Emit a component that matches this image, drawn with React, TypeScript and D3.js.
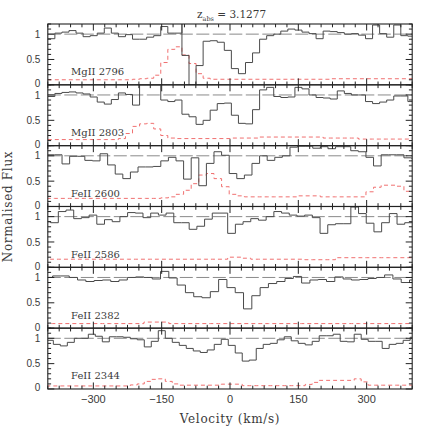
import React from "react";
import * as d3 from "d3";

// ---------------- data ----------------
const Z_ABS = "3.1277";
const PANEL_LABELS = ["MgII 2796", "MgII 2803", "FeII 2600", "FeII 2586", "FeII 2382", "FeII 2344"];
// velocity of first pixel edge (km/s) and pixel width (km/s) for each transition
const BIN_START = [-400, -400, -402.1, -410.7, -407.6, -403.2];
const BIN_WIDTH = [15.5, 15.5, 16.68, 16.9, 18.22, 15.36];

const FLUX_MGII_2796 = [0.91, 1.02, 1.04, 1.07, 1.02, 0.95, 0.97, 1.02, 1.12, 1.02, 0.95, 0.99, 0.9, 0.9, 0.94, 0.97, 1.15, 1.02, 1.02, 0.58, 0, 0.38, 0.86, 0.87, 0.84, 0.68, 0.32, 0.22, 0.44, 0.63, 0.9, 0.97, 1.0, 1.06, 1.1, 1.08, 1.04, 1.01, 0.91, 1.06, 1.05, 1.03, 1.0, 1.01, 0.98, 0.91, 1.18, 1.01, 0.94, 1.18, 0.97, 0.96];
const ERR_MGII_2796 = [0.1, 0.1, 0.1, 0.1, 0.1, 0.1, 0.1, 0.1, 0.1, 0.1, 0.1, 0.1, 0.11, 0.12, 0.13, 0.19, 0.44, 0.7, 0.75, 0.59, 0.42, 0.22, 0.13, 0.11, 0.11, 0.11, 0.11, 0.11, 0.11, 0.11, 0.11, 0.11, 0.11, 0.11, 0.11, 0.11, 0.11, 0.11, 0.11, 0.11, 0.12, 0.12, 0.12, 0.12, 0.12, 0.12, 0.12, 0.12, 0.12, 0.12, 0.12, 0.12];

const FLUX_MGII_2803 = [0.97, 1.03, 1.05, 1.06, 1.04, 1.02, 0.96, 0.86, 0.82, 0.91, 1.04, 1.01, 0.8, 1.2, 1.2, 1.2, 0.9, 0.87, 0.9, 0.62, 0.57, 0.42, 0.5, 0.7, 0.83, 0.84, 0.6, 0.44, 0.43, 0.71, 1.1, 1.15, 0.97, 0.95, 0.96, 1.15, 1.12, 1.0, 0.95, 0.94, 0.92, 1.08, 1.03, 1.0, 1.0, 0.87, 0.83, 0.86, 0.9, 0.98, 0.98, 0.87];
const ERR_MGII_2803 = [0.12, 0.12, 0.12, 0.12, 0.12, 0.12, 0.12, 0.12, 0.12, 0.12, 0.14, 0.24, 0.38, 0.43, 0.44, 0.33, 0.2, 0.15, 0.14, 0.14, 0.14, 0.14, 0.14, 0.14, 0.14, 0.14, 0.15, 0.15, 0.15, 0.15, 0.17, 0.17, 0.17, 0.17, 0.17, 0.17, 0.17, 0.17, 0.17, 0.15, 0.15, 0.15, 0.15, 0.15, 0.13, 0.13, 0.13, 0.13, 0.13, 0.13, 0.13, 0.13];

const FLUX_FEII_2600 = [1.02, 1.02, 0.84, 0.99, 0.99, 0.91, 0.9, 1.04, 0.82, 0.64, 0.55, 0.68, 0.78, 0.78, 0.79, 0.9, 0.97, 0.9, 0.54, 0.96, 0.41, 0.85, 1.08, 1.01, 0.65, 0.55, 0.62, 0.85, 1.0, 0.91, 0.97, 1.0, 1.17, 1.19, 1.19, 1.15, 1.18, 1.14, 1.18, 1.18, 1.1, 1.08, 0.97, 0.8, 1.02, 1.02, 1.02, 0.96, 0.95];
const ERR_FEII_2600 = [0.16, 0.16, 0.16, 0.16, 0.16, 0.16, 0.16, 0.16, 0.16, 0.16, 0.16, 0.16, 0.16, 0.16, 0.16, 0.17, 0.19, 0.24, 0.32, 0.45, 0.62, 0.65, 0.55, 0.39, 0.24, 0.21, 0.19, 0.19, 0.19, 0.19, 0.19, 0.19, 0.19, 0.21, 0.21, 0.21, 0.19, 0.19, 0.19, 0.19, 0.19, 0.19, 0.29, 0.38, 0.42, 0.42, 0.4, 0.3, 0.29];

const FLUX_FEII_2586 = [0.9, 0.88, 1.1, 1.13, 0.96, 0.98, 1.03, 0.85, 0.94, 0.9, 1.0, 1.08, 1.07, 0.98, 1.07, 1.03, 1.07, 0.88, 0.88, 0.75, 0.81, 0.95, 1.07, 1.07, 0.67, 0.85, 0.9, 0.96, 0.93, 1.0, 1.1, 1.07, 1.03, 1.01, 1.03, 0.98, 0.67, 0.84, 0.86, 0.86, 1.19, 1.06, 0.87, 0.7, 0.88, 1.06, 0.85, 0.88, 0.88];
const ERR_FEII_2586 = [0.16, 0.16, 0.16, 0.16, 0.16, 0.16, 0.16, 0.16, 0.16, 0.16, 0.16, 0.16, 0.16, 0.16, 0.16, 0.16, 0.16, 0.16, 0.16, 0.16, 0.16, 0.16, 0.16, 0.16, 0.2, 0.2, 0.18, 0.16, 0.16, 0.16, 0.16, 0.16, 0.16, 0.16, 0.15, 0.15, 0.15, 0.15, 0.19, 0.19, 0.19, 0.19, 0.19, 0.19, 0.19, 0.19, 0.19, 0.19, 0.19];

const FLUX_FEII_2382 = [1.0, 1.03, 1.03, 1.0, 0.95, 0.92, 0.94, 0.95, 0.92, 0.95, 1.0, 1.01, 1.0, 0.97, 1.12, 0.99, 0.85, 0.7, 0.62, 0.6, 0.72, 0.96, 0.8, 0.7, 0.38, 0.64, 0.8, 0.88, 0.92, 0.98, 1.02, 0.89, 0.95, 0.96, 0.92, 1.01, 0.97, 0.95, 0.96, 0.98, 1.0, 1.05, 0.97, 0.9, 0.95];
const ERR_FEII_2382 = [0.09, 0.09, 0.09, 0.09, 0.09, 0.09, 0.09, 0.09, 0.09, 0.09, 0.09, 0.09, 0.12, 0.12, 0.12, 0.09, 0.09, 0.09, 0.09, 0.09, 0.09, 0.09, 0.09, 0.09, 0.09, 0.09, 0.09, 0.09, 0.09, 0.09, 0.09, 0.09, 0.09, 0.09, 0.09, 0.09, 0.09, 0.09, 0.09, 0.09, 0.09, 0.09, 0.09, 0.09, 0.09];

const FLUX_FEII_2344 = [0.96, 0.88, 0.85, 0.92, 1.0, 1.0, 1.08, 1.04, 0.93, 1.03, 1.03, 1.02, 0.99, 0.97, 0.83, 0.94, 1.15, 1.0, 0.92, 0.86, 0.8, 0.75, 0.72, 0.77, 0.88, 0.98, 0.86, 0.71, 0.55, 0.57, 0.8, 0.88, 0.9, 0.97, 1.03, 0.95, 0.9, 0.87, 0.94, 1.05, 1.05, 1.08, 0.94, 0.93, 1.08, 0.98, 0.94, 0.94, 0.8, 0.88, 0.9, 0.96, 1.02];
const ERR_FEII_2344 = [0.06, 0.06, 0.06, 0.06, 0.06, 0.06, 0.06, 0.06, 0.06, 0.06, 0.06, 0.06, 0.08, 0.1, 0.15, 0.19, 0.2, 0.15, 0.1, 0.075, 0.075, 0.075, 0.075, 0.075, 0.075, 0.095, 0.095, 0.095, 0.065, 0.065, 0.065, 0.065, 0.065, 0.065, 0.065, 0.065, 0.065, 0.09, 0.13, 0.17, 0.17, 0.17, 0.17, 0.17, 0.2, 0.14, 0.075, 0.075, 0.075, 0.075, 0.075, 0.075, 0.075];

const FLUXES = [FLUX_MGII_2796, FLUX_MGII_2803, FLUX_FEII_2600, FLUX_FEII_2586, FLUX_FEII_2382, FLUX_FEII_2344];
const ERRORS = [ERR_MGII_2796, ERR_MGII_2803, ERR_FEII_2600, ERR_FEII_2586, ERR_FEII_2382, ERR_FEII_2344];
// narrow spike (zero-width) drawn at a pixel edge
const SPIKES = [{ panel: 0, bin: 19, flux: 1.3 }];

const X_DOMAIN = [-400, 400];
const X_MAJOR = [-300, -150, 0, 150, 300];
const X_MINOR_STEP = 25;
const Y_DOMAIN = [0, 1.2];
const Y_LABELS = [0, 0.5, 1];
const Y_MINOR_STEP = 0.1;
const CONTINUUM = 1;

// ---------------- layout ----------------
const W = 436;
const H = 436;
const LEFT = 47.8;
const RIGHT = 412.2;
const TOP = 24;
const PANEL_H = 60.83;
const N = PANEL_LABELS.length;

const LABEL_FONT = "'DejaVu Serif', serif";
const NUM_FONT = "'Liberation Sans', Arial, sans-serif";
const TEXT_COLOR = "#3a3a3a";

function stepPoints(panel: number): [number, number][] {
  const vals = FLUXES[panel];
  const start = BIN_START[panel];
  const w = BIN_WIDTH[panel];
  const pts: [number, number][] = [];
  vals.forEach((v, i) => {
    const sp = SPIKES.find((s) => s.panel === panel && s.bin === i);
    if (sp) pts.push([start + i * w, sp.flux]);
    pts.push([start + i * w, v]);
  });
  pts.push([start + vals.length * w, vals[vals.length - 1]]);
  return pts;
}

function errPoints(panel: number): [number, number][] {
  const vals = ERRORS[panel];
  const start = BIN_START[panel];
  const w = BIN_WIDTH[panel];
  const pts: [number, number][] = vals.map((v, i) => [start + i * w, v] as [number, number]);
  pts.push([start + vals.length * w, vals[vals.length - 1]]);
  return pts;
}

export default function App() {
  const x = d3.scaleLinear().domain(X_DOMAIN).range([LEFT, RIGHT]);
  const minorX = d3.range(X_DOMAIN[0], X_DOMAIN[1] + 0.001, X_MINOR_STEP);
  const minorY = d3.range(Y_DOMAIN[0], Y_DOMAIN[1] + 0.001, Y_MINOR_STEP);
  const bottom = TOP + N * PANEL_H;

  return (
    <div style={{ position: "absolute", left: 0, top: 0, width: W, height: H, background: "#fff" }}>
      <svg width={W} height={H} viewBox={`0 0 ${W} ${H}`} style={{ display: "block" }}>
        <rect x={0} y={0} width={W} height={H} fill="#fff" />
        <defs>
          {PANEL_LABELS.map((_, p) => (
            <clipPath id={`clip${p}`} key={p}>
              <rect x={LEFT} y={TOP + p * PANEL_H} width={RIGHT - LEFT} height={PANEL_H} />
            </clipPath>
          ))}
        </defs>

        {PANEL_LABELS.map((label, p) => {
          const top = TOP + p * PANEL_H;
          const y = d3.scaleLinear().domain(Y_DOMAIN).range([top + PANEL_H, top]);
          const line = d3
            .line<[number, number]>()
            .x((d) => x(d[0]))
            .y((d) => y(d[1]))
            .curve(d3.curveStepAfter);
          return (
            <g key={p}>
              <g clipPath={`url(#clip${p})`}>
                <line
                  x1={LEFT}
                  x2={RIGHT}
                  y1={y(CONTINUUM)}
                  y2={y(CONTINUUM)}
                  stroke="#8a8a8a"
                  strokeWidth={1}
                  strokeDasharray="13 3.5"
                />
                <path d={line(errPoints(p)) || ""} fill="none" stroke="#f07070" strokeWidth={1} strokeDasharray="4 3" />
                <path d={line(stepPoints(p)) || ""} fill="none" stroke="#4a4a4a" strokeWidth={1} />
              </g>
              {/* x ticks, top and bottom */}
              {minorX.map((v) => {
                const major = Math.abs(v % 150) < 1e-6;
                const len = major ? 6.5 : 3.3;
                const xx = x(v);
                return (
                  <g key={`xt${v}`} stroke="#222" strokeWidth={1}>
                    <line x1={xx} x2={xx} y1={top} y2={top + len} />
                    <line x1={xx} x2={xx} y1={top + PANEL_H} y2={top + PANEL_H - len} />
                  </g>
                );
              })}
              {/* y ticks, left and right */}
              {minorY.map((v) => {
                const major = Y_LABELS.some((l) => Math.abs(l - v) < 1e-6);
                const len = major ? 6.5 : 3.3;
                const yy = y(v);
                return (
                  <g key={`yt${v.toFixed(1)}`} stroke="#222" strokeWidth={1}>
                    <line x1={LEFT} x2={LEFT + len} y1={yy} y2={yy} />
                    <line x1={RIGHT} x2={RIGHT - len} y1={yy} y2={yy} />
                  </g>
                );
              })}
              <rect x={LEFT} y={top} width={RIGHT - LEFT} height={PANEL_H} fill="none" stroke="#222" strokeWidth={1.1} />
              {Y_LABELS.map((v) => (
                <text
                  key={`yl${v}`}
                  x={LEFT - 7.5}
                  y={y(v) + (v === 0 ? 2.4 : 3.6)}
                  textAnchor="end"
                  fontFamily={NUM_FONT}
                  fontSize={10}
                  fill={TEXT_COLOR}
                >
                  {String(v)}
                </text>
              ))}
              <text
                x={x(-349)}
                y={top + PANEL_H - 9.5}
                fontFamily={LABEL_FONT}
                fontSize={10}
                fill={TEXT_COLOR}
              >
                {label}
              </text>
            </g>
          );
        })}

        {X_MAJOR.map((v) => (
          <text
            key={`xl${v}`}
            x={x(v)}
            y={bottom + 14}
            textAnchor="middle"
            fontFamily={NUM_FONT}
            fontSize={11}
            fill={TEXT_COLOR}
          >
            {v < 0 ? `\u2212${Math.abs(v)}` : String(v)}
          </text>
        ))}

        <text
          x={(LEFT + RIGHT) / 2}
          y={bottom + 34.5}
          textAnchor="middle"
          fontFamily={LABEL_FONT}
          fontSize={12}
          letterSpacing={0.7}
          fill={TEXT_COLOR}
        >
          Velocity (km/s)
        </text>

        <text
          transform={`translate(11.5, ${(TOP + bottom) / 2}) rotate(-90)`}
          textAnchor="middle"
          fontFamily={LABEL_FONT}
          fontSize={12}
          letterSpacing={0.7}
          fill={TEXT_COLOR}
        >
          Normalised Flux
        </text>

        <text x={197} y={18} fontFamily={LABEL_FONT} fontSize={10.5} fill={TEXT_COLOR}>
          z
          <tspan fontSize={6.5} dy={2.5}>abs</tspan>
          <tspan dy={-2.5}>{`  =  ${Z_ABS}`}</tspan>
        </text>
      </svg>
    </div>
  );
}
